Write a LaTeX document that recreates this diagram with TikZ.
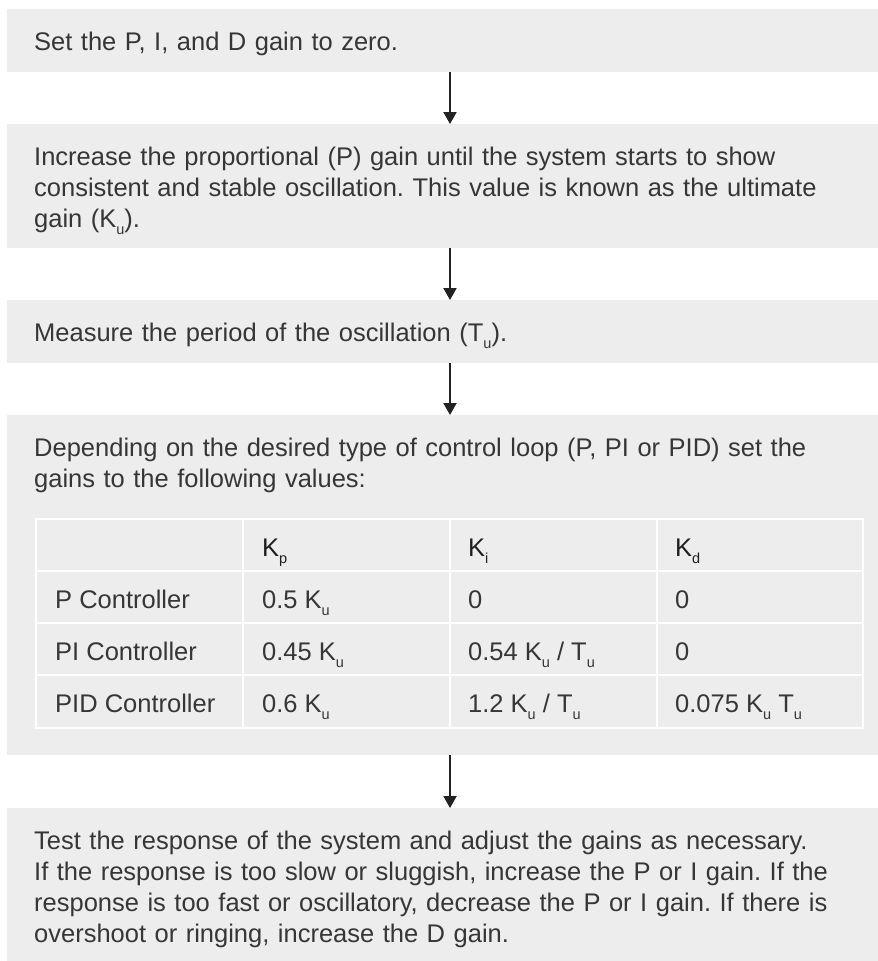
\documentclass[tikz,border=0pt]{standalone}
\usepackage{fontspec}
\setmainfont{Liberation Sans}
\usetikzlibrary{positioning, arrows.meta}
\definecolor{panel}{HTML}{EDEDED}
\definecolor{ink}{HTML}{363636}
\definecolor{headink}{HTML}{1E1E1E}
\definecolor{arrowink}{HTML}{222222}
\newcommand{\lowsub}[1]{\raisebox{-7.5pt}{\fontsize{14.5}{14.5}\selectfont #1}}
\frenchspacing

\begin{document}
\begin{tikzpicture}[x=1pt, y=-1pt, font=\fontsize{25.5}{31}\selectfont, text=ink,
  panelbox/.style={rectangle, fill=panel, minimum width=886pt, inner sep=0pt,
                   outer sep=0pt, anchor=north},
  steptext/.style={anchor=base west, text width=832pt, align=left, inner sep=0pt},
  celltext/.style={anchor=base west, inner sep=0pt},
  headtext/.style={celltext, text=headink},
  flow/.style={draw=arrowink, line width=2pt, -{Triangle[width=13pt, length=12pt]}},
  gridline/.style={white, line width=1.5pt}]
  \useasboundingbox (0,0) rectangle (878,961);
  \clip (0,0) rectangle (878,961);

  % Step panels
  \node[panelbox, minimum height=63pt]  (b1) at (450,9)   {};
  \node[panelbox, minimum height=124pt] (b2) at (450,124) {};
  \node[panelbox, minimum height=63pt]  (b3) at (450,300) {};
  \node[panelbox, minimum height=340pt] (b4) at (450,415) {};
  \node[panelbox, minimum height=160pt] (b5) at (450,808) {};

  % Arrows between steps
  \foreach \a/\b in {b1/b2, b2/b3, b3/b4, b4/b5} {
    \draw[flow] (\a.south) -- (\b.north);
  }

  % Step texts
  \node[steptext] (setzero) at (34,50) {Set the P, I, and D gain to zero.};
  \node[steptext] (raisep) at (34,165)
    {Increase the proportional (P) gain until the system starts to show\\
     consistent and stable oscillation. This value is known as the ultimate\\
     gain (K\lowsub{u}).};
  \node[steptext] (period) at (34,341) {Measure the period of the oscillation (T\lowsub{u}).};
  \node[steptext] (choose) at (34,456)
    {Depending on the desired type of control loop (P, PI or PID) set the\\
     gains to the following values:};
  \node[steptext] (tune) at (34,849)
    {Test the response of the system and adjust the gains as necessary.\\
     If the response is too slow or sluggish, increase the P or I gain. If the\\
     response is too fast or oscillatory, decrease the P or I gain. If there is\\
     overshoot or ringing, increase the D gain.};

  % Gain table
  \draw[gridline] (36,519) rectangle (863,728);
  \foreach \x in {243,450,657} {
    \draw[gridline] (\x,519) -- (\x,728);
  }
  \foreach \y in {571,623,675} {
    \draw[gridline] (36,\y) -- (863,\y);
  }

  \node[headtext] (kp) at (262,556) {K\lowsub{p}};
  \node[headtext] (ki) at (468,556) {K\lowsub{i}};
  \node[headtext] (kd) at (675,556) {K\lowsub{d}};

  \node[celltext] (pctrl) at (55,608)  {P Controller};
  \node[celltext] (pkp)   at (262,608) {0.5 K\lowsub{u}};
  \node[celltext] (pki)   at (468,608) {0};
  \node[celltext] (pkd)   at (675,608) {0};

  \node[celltext] (pictrl) at (55,660)  {PI Controller};
  \node[celltext] (pikp)   at (262,660) {0.45 K\lowsub{u}};
  \node[celltext] (piki)   at (468,660) {0.54 K\lowsub{u} / T\lowsub{u}};
  \node[celltext] (pikd)   at (675,660) {0};

  \node[celltext] (pidctrl) at (55,712)  {PID Controller};
  \node[celltext] (pidkp)   at (262,712) {0.6 K\lowsub{u}};
  \node[celltext] (pidki)   at (468,712) {1.2 K\lowsub{u} / T\lowsub{u}};
  \node[celltext] (pidkd)   at (675,712) {0.075 K\lowsub{u} T\lowsub{u}};
\end{tikzpicture}
\end{document}
